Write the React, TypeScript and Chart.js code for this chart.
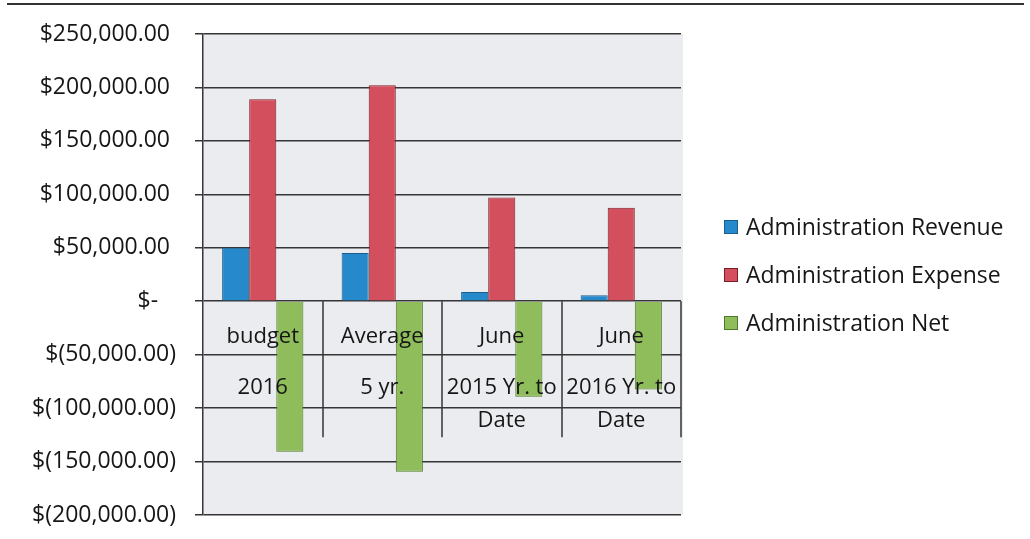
import React, { useEffect, useRef } from "react";
import { Chart, registerables } from "chart.js";

Chart.register(...registerables);

const categories: string[][] = [
  ["budget", "2016"],
  ["Average", "5 yr."],
  ["June", "2015 Yr. to", "Date"],
  ["June", "2016 Yr. to", "Date"],
];
const seriesNames = ["Administration Revenue", "Administration Expense", "Administration Net"];
const revenue = [50000, 45000, 8700, 5600];
const expense = [189000, 202000, 97000, 87500];
const net = [-140800, -159500, -89400, -82500];
const yMin = -200000;
const yMax = 250000;
const yStep = 50000;

const FONT = "'Open Sans', 'Noto Sans', sans-serif";
const TEXT = "#161616";
const GRID = "#353535";

function fmt(v: number): string {
  if (v === 0) return "$-   ";
  const s = Math.abs(v).toLocaleString("en-US", { minimumFractionDigits: 2, maximumFractionDigits: 2 });
  return v > 0 ? "$" + s + " " : "$(" + s + ")";
}

const decorPlugin = {
  id: "decor",
  beforeDraw(chart: any) {
    const { ctx, chartArea, width } = chart;
    ctx.save();
    ctx.fillStyle = "#ffffff";
    ctx.fillRect(0, 0, width, chart.height);
    ctx.fillStyle = "#eaecef";
    ctx.fillRect(chartArea.left, chartArea.top, chartArea.right - chartArea.left + 2, chartArea.bottom - chartArea.top);
    ctx.strokeStyle = "#333333";
    ctx.lineWidth = 2;
    ctx.beginPath();
    ctx.moveTo(7, 4);
    ctx.lineTo(1024, 4);
    ctx.stroke();
    ctx.restore();
  },
  afterDatasetsDraw(chart: any) {
    const { ctx, chartArea } = chart;
    const x = chart.scales.x;
    const y = chart.scales.y;
    const zero = y.getPixelForValue(0);
    const n = chart.data.labels.length;
    const half = (chartArea.right - chartArea.left) / n / 2;
    ctx.save();
    ctx.strokeStyle = GRID;
    ctx.lineWidth = 1.5;
    for (let i = 0; i < n; i++) {
      const bx = Math.round(x.getPixelForValue(i) + half);
      ctx.beginPath();
      ctx.moveTo(bx, zero);
      ctx.lineTo(bx, zero + 136);
      ctx.stroke();
    }
    ctx.fillStyle = TEXT;
    ctx.font = "22px " + FONT;
    ctx.textAlign = "center";
    ctx.textBaseline = "middle";
    const offs = [36, 87, 120];
    chart.data.labels.forEach((lab: string[], i: number) => {
      const cx = x.getPixelForValue(i);
      lab.forEach((line: string, j: number) => {
        ctx.fillText(line, cx, zero + offs[j]);
      });
    });
    ctx.restore();
  },
  afterDraw(chart: any) {
    const { ctx } = chart;
    ctx.save();
    ctx.font = "23px " + FONT;
    ctx.textBaseline = "middle";
    ctx.textAlign = "left";
    const ys = [227, 275, 323];
    chart.data.datasets.forEach((ds: any, i: number) => {
      const yy = ys[i];
      ctx.fillStyle = ds.backgroundColor;
      ctx.fillRect(724, yy - 7, 14, 14);
      ctx.strokeStyle = ds.borderColor;
      ctx.lineWidth = 1;
      ctx.strokeRect(724.5, yy - 6.5, 13, 13);
      ctx.fillStyle = TEXT;
      ctx.fillText(ds.label, 746, yy + 1);
    });
    ctx.restore();
  },
};

export default function App() {
  const ref = useRef<HTMLCanvasElement | null>(null);
  useEffect(() => {
    if (!ref.current) return;
    const chart = new Chart(ref.current, {
      type: "bar",
      data: {
        labels: categories,
        datasets: [
          { label: seriesNames[0], data: revenue, backgroundColor: "#2589cc", borderColor: "#1b5d8c", borderWidth: 1 },
          { label: seriesNames[1], data: expense, backgroundColor: "#d34f5d", borderColor: "#7a1f28", borderWidth: 1 },
          { label: seriesNames[2], data: net, backgroundColor: "#8fbd5b", borderColor: "#4f7a2a", borderWidth: 1 },
        ],
      },
      options: {
        animation: false,
        responsive: false,
        maintainAspectRatio: false,
        devicePixelRatio: 1,
        layout: { padding: { left: 0, top: 34, right: 349, bottom: 24 } },
        datasets: { bar: { categoryPercentage: 0.68, barPercentage: 1 } },
        plugins: { legend: { display: false }, tooltip: { enabled: false } },
        scales: {
          x: { display: false },
          y: {
            min: yMin,
            max: yMax,
            afterFit: (s: any) => {
              s.width = 203;
              s.paddingTop = 0;
              s.paddingBottom = 0;
            },
            ticks: {
              stepSize: yStep,
              padding: 19,
              color: TEXT,
              font: { family: FONT, size: 23 },
              callback: (v: any) => fmt(Number(v)),
            },
            grid: { color: GRID, lineWidth: 1.5, tickLength: 8 },
            border: { display: true, color: GRID, width: 1.5 },
          },
        },
      } as any,
      plugins: [decorPlugin],
    });
    return () => chart.destroy();
  }, []);
  return (
    <div style={{ position: "absolute", left: 0, top: 0, width: 1030, height: 539, background: "#fff" }}>
      <canvas ref={ref} width={1030} height={539} style={{ display: "block", width: 1030, height: 539 }} />
    </div>
  );
}
